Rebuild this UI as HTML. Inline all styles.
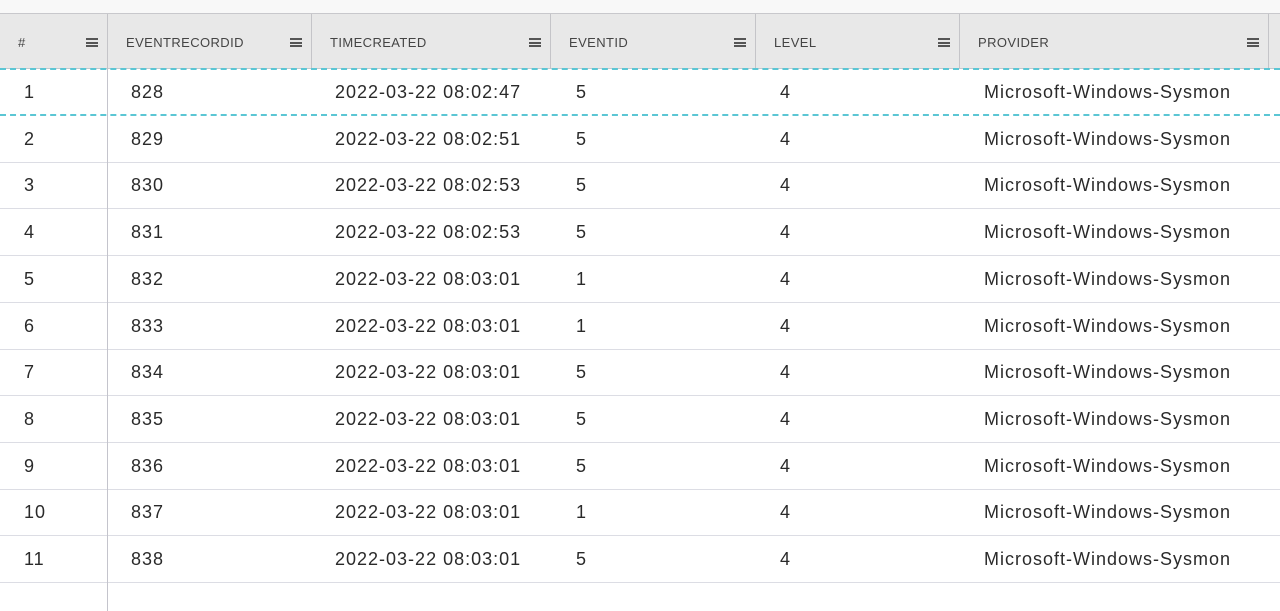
<!DOCTYPE html>
<html><head><meta charset="utf-8"><style>
*{margin:0;padding:0;box-sizing:border-box}
body{width:1280px;height:611px;overflow:hidden;background:#fff;font-family:"Liberation Sans",sans-serif;color:#333;position:relative}
.top{position:absolute;left:0;top:0;width:1280px;height:14px;background:#f8f8f8;border-bottom:1px solid #c8c8cc}
.hdr{position:absolute;left:0;top:14px;width:1280px;height:55px;background:#e8e8e8;border-bottom:1px solid #c8c8cc}
.hc{position:absolute;top:0;height:55px;border-right:1px solid #c4c4c8}
.hc span{position:absolute;top:21px;font-size:13px;color:#444;letter-spacing:0.4px}
.menu{position:absolute;top:24px;width:12px;height:9px;border-top:2px solid #555;border-bottom:2px solid #555}
.menu:after{content:"";position:absolute;left:0;top:1.5px;width:12px;height:2px;background:#555}
.row{position:absolute;left:0;width:1280px;height:47px;border-bottom:1px solid #dcdde4}
.row.sel{border-top:2px dashed #5bc6d4;border-bottom:2px dashed #5bc6d4}
.c{position:absolute;top:13px;font-size:18px;letter-spacing:1px;color:#2a2a2a}
.vline{position:absolute;left:107px;top:69px;width:1px;height:542px;background:#c4c4cc}
</style></head><body>
<div class="top"></div>
<div class="hdr">
 <div class="hc" style="left:0;width:108px"><span style="left:18px">#</span><div class="menu" style="left:86px"></div></div>
 <div class="hc" style="left:108px;width:204px"><span style="left:18px">EVENTRECORDID</span><div class="menu" style="left:182px"></div></div>
 <div class="hc" style="left:312px;width:239px"><span style="left:18px">TIMECREATED</span><div class="menu" style="left:217px"></div></div>
 <div class="hc" style="left:551px;width:205px"><span style="left:18px">EVENTID</span><div class="menu" style="left:183px"></div></div>
 <div class="hc" style="left:756px;width:204px"><span style="left:18px">LEVEL</span><div class="menu" style="left:182px"></div></div>
 <div class="hc" style="left:960px;width:309px"><span style="left:18px">PROVIDER</span><div class="menu" style="left:287px"></div></div>
</div>
<div id="body"></div>
<div class="vline"></div>
<script>
const ids=[828,829,830,831,832,833,834,835,836,837,838];
const times=["2022-03-22 08:02:47","2022-03-22 08:02:51","2022-03-22 08:02:53","2022-03-22 08:02:53","2022-03-22 08:03:01","2022-03-22 08:03:01","2022-03-22 08:03:01","2022-03-22 08:03:01","2022-03-22 08:03:01","2022-03-22 08:03:01","2022-03-22 08:03:01"];
const eventIds=[5,5,5,5,1,1,5,5,5,1,5];
const levels=[4,4,4,4,4,4,4,4,4,4,4];
const body=document.getElementById('body');
const xs=[24,131,335,576,780,984];
for(let i=0;i<ids.length;i++){
 const r=document.createElement('div');
 r.className='row'+(i===0?' sel':'');
 r.style.top=(69+i*46.7-(i===0?1:0))+'px';
 if(i===0)r.style.height='48px';
 
 
 const vals=[i+1,ids[i],times[i],eventIds[i],levels[i],'Microsoft-Windows-Sysmon'];
 const names=['cell-index','cell-eventrecordid','cell-timecreated','cell-eventid','cell-level','cell-provider'];
 vals.forEach((v,j)=>{
  const c=document.createElement('div');
  c.className='c';c.style.left=xs[j]+'px';
  if(i===0)c.style.top='12px';
  c.textContent=v;
  
  
  r.appendChild(c);
 });
 body.appendChild(r);
}
</script>
</body></html>
